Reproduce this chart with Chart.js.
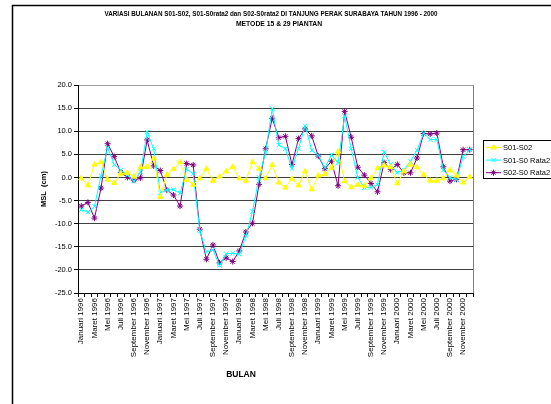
<!DOCTYPE html>
<html>
<head>
<meta charset="utf-8">
<script src="https://cdn.jsdelivr.net/npm/chart.js@4.4.1/dist/chart.umd.min.js"></script>
<style>
  html, body { margin: 0; padding: 0; background: #fff; }
  #wrap { position: relative; width: 551px; height: 404px; }
</style>
</head>
<body>
<div id="wrap"><canvas id="chart" width="551" height="404"></canvas></div>
<script>
const months = ['Januari', 'Februari', 'Maret', 'April', 'Mei', 'Juni', 'Juli', 'Agustus', 'September', 'Oktober', 'November', 'Desember']
const years = [1996, 1997, 1998, 1999, 2000]
const categories = years.flatMap(y => months.map(m => `${m} ${y}`))

const s01s02 = [
  -0.2, -1.7, 2.8, 3.3, -0.5, -1.2, 0.8, 1.0, 0.2, 2.2, 2.3, 4.1,
  -4.2, 0.6, 1.8, 3.3, -0.5, -1.6, -0.2, 1.9, -0.7, 0.2, 1.3, 2.3,
  -0.2, -0.7, 3.3, 1.9, -0.2, 2.7, -1.1, -2.2, -0.3, -1.7, 1.3, -2.6,
  0.4, 0.7, 2.1, 5.6, -0.8, -2.1, -1.6, -1.8, -0.2, 2.0, 2.6, 2.2,
  -1.3, 1.3, 2.8, 2.2, 0.6, -0.7, -0.7, -0.2, 1.6, 0.4, -1.1, 0.1,
]
const s01Rata2 = [
  -7.0, -7.5, -6.3, 0.4, 6.4, 2.8, 1.6, 0.5, -0.8, 1.2, 9.8, 6.2,
  -3.3, -2.7, -2.6, -3.4, 1.8, 0.8, -11.6, -16.1, -15.7, -19.1, -16.5, -16.4,
  -16.6, -12.7, -7.4, 0.0, 5.5, 14.9, 7.0, 6.2, 1.9, 6.3, 11.2, 5.9,
  4.8, 2.1, 4.9, 3.2, 13.3, 6.2, 0.0, -2.2, -2.2, -1.5, 5.5, 2.8,
  1.0, 1.6, 3.5, 5.9, 9.6, 8.2, 8.2, 1.6, 0.0, -0.5, 4.5, 6.0,
]
const s02Rata2 = [
  -6.2, -5.4, -8.8, -2.3, 7.3, 4.5, 1.1, 0.0, -0.6, -0.1, 8.1, 2.5,
  1.5, -2.7, -3.8, -6.2, 3.0, 2.7, -11.2, -17.7, -14.6, -18.5, -17.4, -18.2,
  -15.9, -11.8, -9.9, -1.5, 6.2, 12.8, 8.6, 8.9, 2.8, 8.4, 10.5, 9.0,
  4.6, 1.9, 3.5, -1.8, 14.3, 8.7, 2.2, 0.5, -1.3, -3.1, 3.2, 1.7,
  2.8, 1.0, 1.0, 4.2, 9.5, 9.4, 9.6, 2.3, -0.8, -0.4, 6.0, 6.0,
]

const titleLines = [
  'VARIASI BULANAN S01-S02, S01-S0rata2 dan S02-S0rata2 DI TANJUNG PERAK SURABAYA TAHUN 1996 - 2000',
  'METODE 15 & 29 PIANTAN',
]

const FONT = 'Liberation Sans, Arial, sans-serif'

const series = [
  { label: 'S01-S02', data: s01s02, color: '#FFFF00', style: 'triangle', radius: 3 },
  { label: 'S01-S0 Rata2', data: s01Rata2, color: '#00FFFF', style: 'crossRot', radius: 3 },
  { label: 'S02-S0 Rata2', data: s02Rata2, color: '#800080', style: 'star', radius: 3 },
]

// title, x axis caption, legend box and frame drawn by hand to match the excel layout
const decor = {
  id: 'decor',
  afterDraw(chart) {
    const ctx = chart.ctx
    const area = chart.chartArea
    ctx.save()

    ctx.strokeStyle = '#000'
    ctx.lineWidth = 1.5
    ctx.beginPath()
    ctx.moveTo(12.5, 404)
    ctx.lineTo(12.5, 5.5)
    ctx.lineTo(551, 5.5)
    ctx.stroke()

    ctx.strokeStyle = '#808080'
    ctx.lineWidth = 1
    ctx.beginPath()
    ctx.moveTo(area.right + 0.5, area.top)
    ctx.lineTo(area.right + 0.5, area.bottom)
    ctx.stroke()

    ctx.fillStyle = '#000'
    ctx.textAlign = 'center'
    ctx.textBaseline = 'middle'
    ctx.font = `bold 6.3px ${FONT}`
    ctx.fillText(titleLines[0], 271, 14.5)
    ctx.font = `bold 6.8px ${FONT}`
    ctx.fillText(titleLines[1], 279, 24.5)

    ctx.font = `bold 8.5px ${FONT}`
    ctx.fillText('BULAN', 241, 375)

    ctx.strokeStyle = '#000'
    ctx.lineWidth = 1
    ctx.strokeRect(483.5, 140.5, 80, 38)
    ctx.textAlign = 'left'
    ctx.font = `7.5px ${FONT}`
    series.forEach((s, i) => {
      const y = 147.5 + i * 12.6
      ctx.strokeStyle = s.color
      ctx.fillStyle = s.color
      ctx.lineWidth = 1
      ctx.beginPath()
      ctx.moveTo(486, y)
      ctx.lineTo(501, y)
      ctx.stroke()
      Chart.helpers.drawPoint(ctx, { pointStyle: s.style, radius: s.radius, borderWidth: 1, rotation: 0 }, 493.5, y)
      ctx.fillStyle = '#000'
      ctx.fillText(s.label, 503, y + 0.5)
    })
    ctx.restore()
  },
}

new Chart(document.getElementById('chart'), {
  type: 'line',
  data: {
    labels: categories,
    datasets: series.map(s => ({
      label: s.label,
      data: s.data,
      borderColor: s.color,
      backgroundColor: s.color,
      borderWidth: 1,
      pointStyle: s.style,
      pointRadius: s.radius,
      pointBorderWidth: 1,
      pointBorderColor: s.color,
      pointBackgroundColor: s.color,
      tension: 0,
      fill: false,
    })),
  },
  options: {
    responsive: false,
    animation: false,
    devicePixelRatio: 1,
    layout: { padding: { left: 12, right: 78, top: 85, bottom: 0 } },
    plugins: {
      legend: { display: false },
      title: { display: false },
      tooltip: { enabled: false },
    },
    scales: {
      x: {
        type: 'category',
        offset: true,
        afterFit(scale) { scale.height = 111 },
        grid: {
          offset: true,
          drawOnChartArea: false,
          drawTicks: true,
          tickLength: 4,
          tickColor: '#000',
        },
        border: { color: '#000', width: 1 },
        ticks: {
          autoSkip: false,
          maxRotation: 90,
          minRotation: 90,
          padding: 1,
          color: '#000',
          font: { family: FONT, size: 8 },
          callback: (v, i) => (i % 2 === 0 ? categories[i] : ''),
        },
      },
      y: {
        min: -25,
        max: 20,
        afterFit(scale) { scale.width = 66 },
        grid: {
          color: ctx => (ctx.tick && ctx.tick.value === 20 ? '#a0a0a0' : '#404040'),
          lineWidth: 1,
          drawTicks: true,
          tickLength: 4,
          tickColor: '#000',
        },
        border: { color: '#000', width: 1 },
        ticks: {
          stepSize: 5,
          padding: 2,
          color: '#000',
          font: { family: FONT, size: 7.5 },
          callback: v => v.toFixed(1),
        },
        title: {
          display: true,
          text: 'MSL  (cm)',
          color: '#000',
          font: { family: FONT, size: 7.5, weight: 'bold' },
          padding: { top: 27, bottom: 0 },
        },
      },
    },
  },
  plugins: [decor],
})
</script>
</body>
</html>
